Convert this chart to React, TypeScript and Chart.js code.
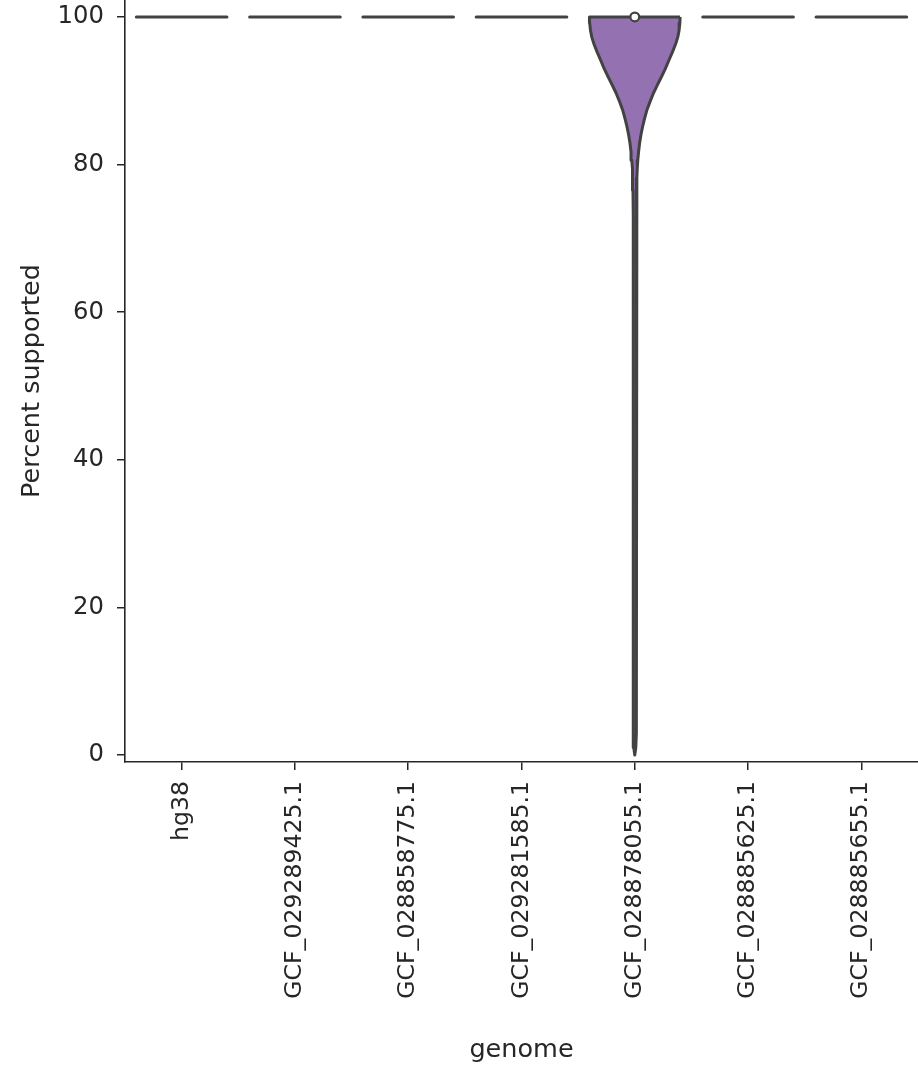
import React, { useEffect, useRef } from "react";
import { Chart, registerables } from "chart.js";

Chart.register(...registerables);

// ---- data ----
const genomes = [
  "hg38",
  "GCF_029289425.1",
  "GCF_028858775.1",
  "GCF_029281585.1",
  "GCF_028878055.1",
  "GCF_028885625.1",
  "GCF_028885655.1",
];
// genomes whose values are all identical (drawn as a single horizontal line)
const singleValues: (number | null)[] = [100, 100, 100, 100, null, 100, 100];
// the one real violin (GCF_028878055.1): percent values (top to bottom) and relative density
const violinIndex = 4;
const violinValues = [100, 99.2, 98.2, 97.3, 96.4, 95.3, 94.2, 93.0, 91.9, 90.8, 89.7, 88.5, 87.4, 86.2, 85.1, 84.0, 82.9, 81.7, 80.6, 79.4, 78.2, 76.5, 73, 50, 30, 10, 3, 1, 0];
const violinDensity = [1.0, 0.995, 0.978, 0.95, 0.905, 0.835, 0.758, 0.675, 0.589, 0.5, 0.413, 0.335, 0.268, 0.214, 0.171, 0.135, 0.106, 0.083, 0.066, 0.054, 0.046, 0.04, 0.036, 0.034, 0.034, 0.034, 0.031, 0.022, 0];
const medianValue = 100;
const yTicks = [0, 20, 40, 60, 80, 100];

const halfWidth = 0.4;
const purple = "#9472b2";
const gray = "#424242";
const axisColor = "#262626";
const family = "'DejaVu Sans', sans-serif";

export default function App() {
  const ref = useRef<HTMLCanvasElement | null>(null);

  useEffect(() => {
    if (!ref.current) return;

    const right = violinValues.map((v, i) => ({ x: violinIndex + violinDensity[i] * halfWidth, y: v }));
    const left = violinValues
      .map((v, i) => ({ x: violinIndex - violinDensity[i] * halfWidth, y: v }))
      .reverse();
    const violinPts = [...right, ...left, right[0]];

    const datasets: any[] = [
      {
        data: [{ x: violinIndex, y: medianValue }],
        pointRadius: 4.4,
        pointHoverRadius: 4.4,
        pointBackgroundColor: "#ffffff",
        pointBorderColor: gray,
        pointBorderWidth: 2.2,
        showLine: false,
        order: 0,
      },
      {
        data: violinPts,
        showLine: true,
        fill: "shape",
        backgroundColor: purple,
        borderColor: gray,
        borderWidth: 3,
        borderJoinStyle: "round",
        pointRadius: 0,
        tension: 0,
        order: 1,
      },
    ];
    singleValues.forEach((v, i) => {
      if (v === null) return;
      datasets.push({
        data: [
          { x: i - halfWidth, y: v },
          { x: i + halfWidth, y: v },
        ],
        showLine: true,
        borderColor: gray,
        borderWidth: 3,
        borderCapStyle: "round",
        pointRadius: 0,
        fill: false,
        order: 2,
      });
    });

    const chart = new Chart(ref.current, {
      type: "scatter",
      data: { datasets },
      options: {
        animation: false,
        responsive: false,
        devicePixelRatio: 1,
        events: [],
        clip: false as any,
        layout: { autoPadding: false, padding: { left: 0, right: 0, top: 0, bottom: 0 } },
        plugins: { legend: { display: false }, tooltip: { enabled: false } },
        scales: {
          x: {
            type: "linear",
            min: -0.5,
            max: 6.5,
            afterBuildTicks: (s: any) => {
              s.ticks = genomes.map((_, i) => ({ value: i }));
            },
            afterFit: (s: any) => {
              s.height = 304;
              s.paddingLeft = 0;
              s.paddingRight = 0;
            },
            ticks: {
              autoSkip: false,
              minRotation: 90,
              maxRotation: 90,
              padding: 11,
              color: axisColor,
              font: { family, size: 23.6 },
              callback: (v: any) => genomes[Math.round(Number(v))] ?? "",
            },
            grid: {
              display: true,
              drawOnChartArea: false,
              drawTicks: true,
              tickLength: 8,
              color: axisColor,
              lineWidth: 1.5,
            },
            border: { display: true, color: axisColor, width: 1.6 },
            title: {
              display: true,
              text: "genome",
              color: axisColor,
              font: { family, size: 25.5 },
              padding: { top: 2, bottom: 0 },
            },
          },
          y: {
            type: "linear",
            min: -0.95,
            max: 102.3,
            afterBuildTicks: (s: any) => {
              s.ticks = yTicks.map((v) => ({ value: v }));
            },
            afterFit: (s: any) => {
              s.width = 125;
              s.paddingTop = 0;
              s.paddingBottom = 0;
            },
            ticks: {
              padding: 13,
              color: axisColor,
              font: { family, size: 24.3 },
              callback: (v: any) => String(v),
            },
            grid: {
              display: true,
              drawOnChartArea: false,
              drawTicks: true,
              tickLength: 8,
              color: axisColor,
              lineWidth: 1.5,
            },
            border: { display: true, color: axisColor, width: 1.6 },
            title: {
              display: true,
              text: "Percent supported",
              color: axisColor,
              font: { family, size: 25.5 },
              padding: { top: 17, bottom: 0 },
            },
          },
        },
      },
    });
    return () => chart.destroy();
  }, []);

  return (
    <div style={{ position: "absolute", left: 0, top: 0, width: 918, height: 1066 }}>
      <canvas ref={ref} width={918} height={1066} style={{ display: "block", width: 918, height: 1066 }} />
    </div>
  );
}
